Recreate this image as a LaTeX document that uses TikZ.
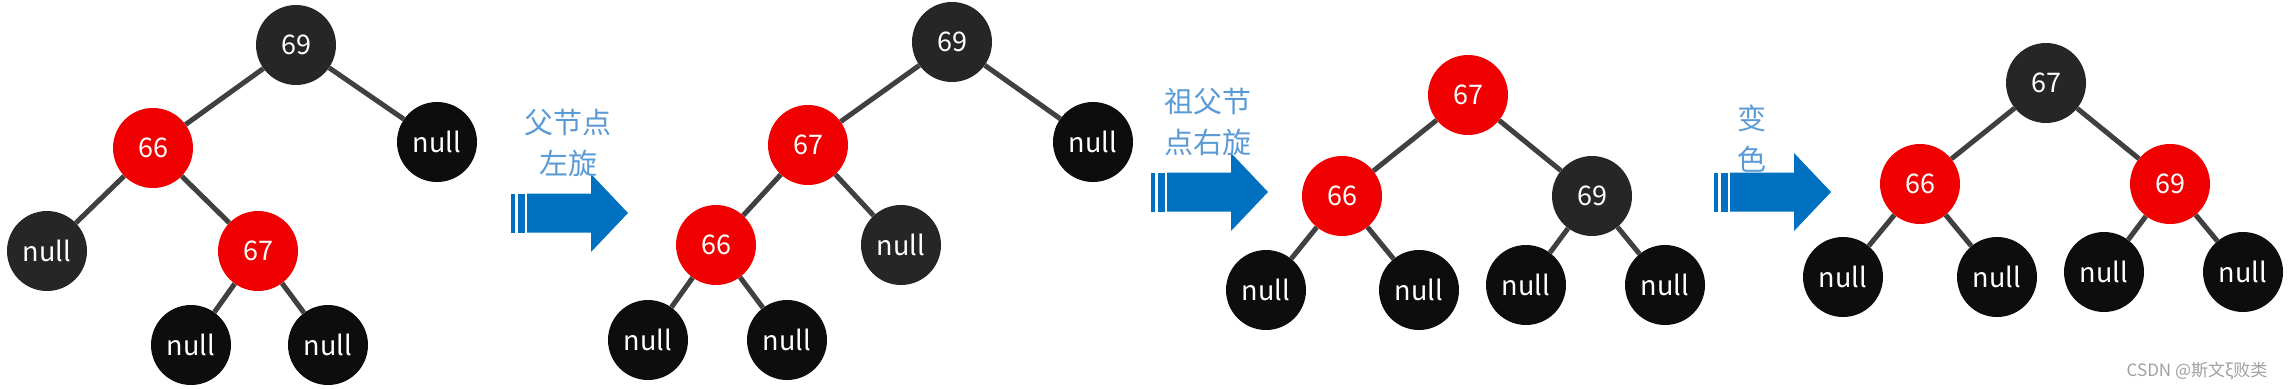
\documentclass[tikz,border=0pt]{standalone}
\usepackage{fontspec}
\setmainfont{Noto Sans CJK SC}
\usepackage{xcolor}
\usepackage{tikz}
\usetikzlibrary{positioning, arrows.meta}
\definecolor{rbred}{HTML}{F00000}
\definecolor{rbgray}{HTML}{262626}
\definecolor{rbblack}{HTML}{0D0D0D}
\definecolor{edgegray}{HTML}{404040}
\definecolor{arrowblue}{HTML}{0070C0}
\definecolor{noteblue}{HTML}{5B9BD5}
\definecolor{markgray}{HTML}{A0A0A0}

\begin{document}
\begin{tikzpicture}[x=1pt, y=-1pt,
    rbnode/.style={circle, minimum size=80pt, inner sep=0pt, text=white,
                   font=\fontsize{27}{27}\selectfont},
    rednode/.style={rbnode, fill=rbred},
    graynode/.style={rbnode, fill=rbgray},
    nilnode/.style={rbnode, fill=rbblack},
    link/.style={draw=edgegray, line width=5pt},
    stepnote/.style={text=noteblue, align=center,
                     font=\fontsize{29}{41}\selectfont}]
  \useasboundingbox (0,0) rectangle (2290,388);

  % tree 1
  \node[graynode] (a69) at (296,45) {69};
  \node[rednode]  (a66) at (153,148) {66};
  \node[nilnode]  (an1) at (437,142) {null};
  \node[graynode] (an2) at (47,251) {null};
  \node[rednode]  (a67) at (258,251) {67};
  \node[nilnode]  (an3) at (191,345) {null};
  \node[nilnode]  (an4) at (328,345) {null};
  \draw[link] (a69) -- (a66);
  \draw[link] (a69) -- (an1);
  \draw[link] (a66) -- (an2);
  \draw[link] (a66) -- (a67);
  \draw[link] (a67) -- (an3);
  \draw[link] (a67) -- (an4);

  % tree 2
  \node[graynode] (b69) at (952,42) {69};
  \node[rednode]  (b67) at (808,145) {67};
  \node[nilnode]  (bn1) at (1093,142) {null};
  \node[rednode]  (b66) at (716,245) {66};
  \node[graynode] (bn2) at (901,245) {null};
  \node[nilnode]  (bn3) at (648,340) {null};
  \node[nilnode]  (bn4) at (787,340) {null};
  \draw[link] (b69) -- (b67);
  \draw[link] (b69) -- (bn1);
  \draw[link] (b67) -- (b66);
  \draw[link] (b67) -- (bn2);
  \draw[link] (b66) -- (bn3);
  \draw[link] (b66) -- (bn4);

  % tree 3
  \node[rednode]  (c67) at (1468,95) {67};
  \node[rednode]  (c66) at (1342,196) {66};
  \node[graynode] (c69) at (1592,196) {69};
  \node[nilnode]  (cn1) at (1266,290) {null};
  \node[nilnode]  (cn2) at (1419,290) {null};
  \node[nilnode]  (cn3) at (1526,285) {null};
  \node[nilnode]  (cn4) at (1665,285) {null};
  \draw[link] (c67) -- (c66);
  \draw[link] (c67) -- (c69);
  \draw[link] (c66) -- (cn1);
  \draw[link] (c66) -- (cn2);
  \draw[link] (c69) -- (cn3);
  \draw[link] (c69) -- (cn4);

  % tree 4
  \node[graynode] (d67) at (2046,83) {67};
  \node[rednode]  (d66) at (1920,184) {66};
  \node[rednode]  (d69) at (2170,184) {69};
  \node[nilnode]  (dn1) at (1843,277) {null};
  \node[nilnode]  (dn2) at (1997,277) {null};
  \node[nilnode]  (dn3) at (2104,272) {null};
  \node[nilnode]  (dn4) at (2243,272) {null};
  \draw[link] (d67) -- (d66);
  \draw[link] (d67) -- (d69);
  \draw[link] (d66) -- (dn1);
  \draw[link] (d66) -- (dn2);
  \draw[link] (d69) -- (dn3);
  \draw[link] (d69) -- (dn4);

  % step arrows
  \foreach \ax/\ay in {511/213, 1151/192, 1714/192}{
    \fill[arrowblue] (\ax,\ay-19.5) rectangle ++(4,39);
    \fill[arrowblue] (\ax+7,\ay-19.5) rectangle ++(7,39);
    \fill[arrowblue] (\ax+16,\ay-19.5) -- (\ax+80,\ay-19.5) -- (\ax+80,\ay-39)
      -- (\ax+117,\ay) -- (\ax+80,\ay+39) -- (\ax+80,\ay+19.5)
      -- (\ax+16,\ay+19.5) -- cycle;
  }
  \node[stepnote] (note1) at (568,143) {父节点\\左旋};
  \node[stepnote] (note2) at (1208,122) {祖父节\\点右旋};
  \node[stepnote] (note3) at (1752,139) {变\\色};

  \node[text=markgray, font=\fontsize{17}{17}\selectfont] (mark) at (2197,371)
    {CSDN @斯文ξ败类};
\end{tikzpicture}
\end{document}
